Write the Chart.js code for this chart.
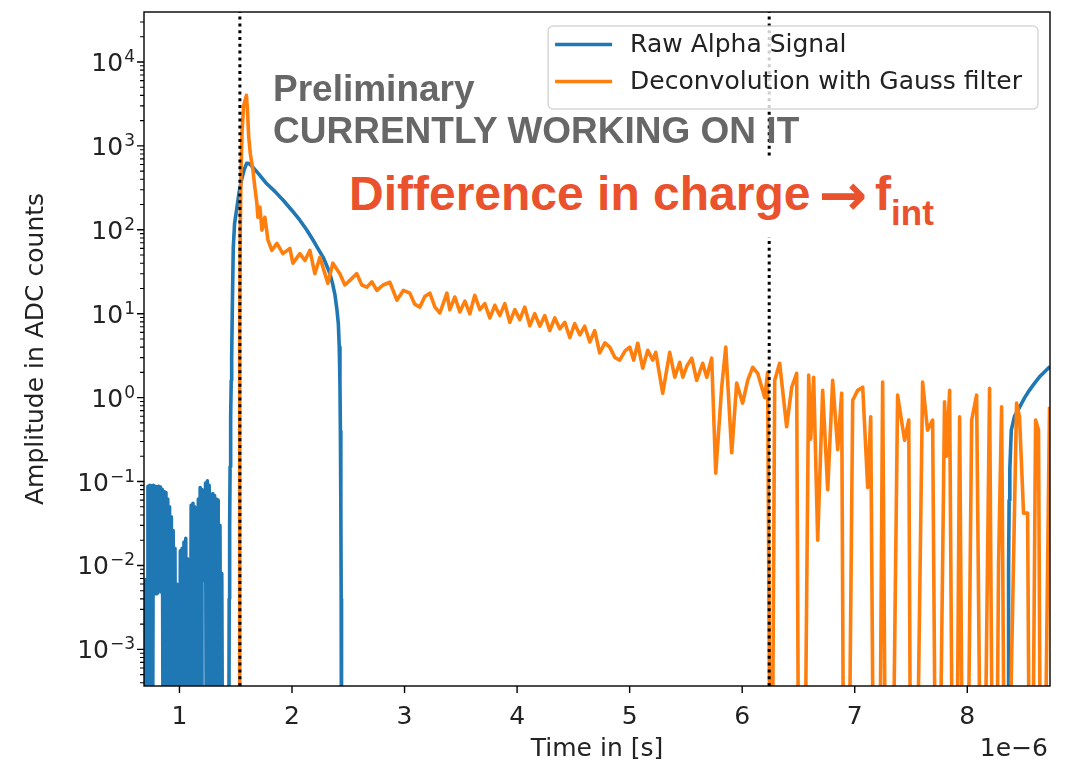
<!DOCTYPE html>
<html>
<head>
<meta charset="utf-8">
<script src="https://cdn.jsdelivr.net/npm/chart.js@4.4.1/dist/chart.umd.min.js"></script>
<style>
  html, body { margin: 0; padding: 0; background: #fff; }
  #wrap { position: relative; width: 1069px; height: 764px; overflow: hidden; }
  #chart { position: absolute; left: 0; top: 0; }
  .note { position: absolute; font-family: "Liberation Sans", Arial, sans-serif; font-weight: bold; white-space: nowrap; }
  #prelim { left: 273px; top: 68px; font-size: 37px; line-height: 42px; color: #676767; }
  #diff { left: 341px; top: 157px; height: 80px; padding: 0 10px 0 8px; line-height: 74px; font-size: 48px; color: #e9522c; background: #fff; }
  #diff .arr { font-family: "DejaVu Sans", sans-serif; font-size: 58px; line-height: 0; vertical-align: -5px; margin: 0 8px 0 8px; }
  #diff sub { font-size: 35px; vertical-align: -15px; line-height: 0; }
</style>
</head>
<body>
<div id="wrap">
  <canvas id="chart" width="1069" height="764"></canvas>
  <div class="note" id="prelim">Preliminary<br>CURRENTLY WORKING ON IT</div>
  <div class="note" id="diff">Difference in charge<span class="arr">→</span>f<sub>int</sub></div>
</div>
<script>
// axis setup (time is in units of 1e-6 s, like the offset label says)
const xRange = [0.685, 8.735];
const xTickValues = [1, 2, 3, 4, 5, 6, 7, 8];
const timeOffsetLabel = "1e\u22126";
const yRange = [3.66e-4, 3.94e4];
const yTickValues = [1e-3, 1e-2, 1e-1, 1e0, 1e1, 1e2, 1e3, 1e4];
const yTickExponents = ["\u22123", "\u22122", "\u22121", "0", "1", "2", "3", "4"];

const seriesNames = ["Raw Alpha Signal", "Deconvolution with Gauss filter"];
const seriesColors = ["#1f77b4", "#ff7f0e"];

// raw alpha signal, 1e-5 = below the axis floor (clipped like matplotlib)
const rawTime = [
  0.688, 0.696, 0.704, 0.712, 0.720, 0.728, 0.736, 0.744, 0.752, 0.760,
  0.768, 0.776, 0.784, 0.792, 0.800, 0.808, 0.816, 0.824, 0.832, 0.840,
  0.848, 0.856, 0.864, 0.872, 0.880, 0.888, 0.896, 0.904, 0.912, 0.920,
  0.928, 0.936, 0.944, 0.952, 0.960, 0.968, 0.976, 0.984, 0.992, 1.000,
  1.008, 1.016, 1.024, 1.032, 1.040, 1.048, 1.056, 1.064, 1.072, 1.080,
  1.088, 1.096, 1.104, 1.112, 1.120, 1.128, 1.136, 1.144, 1.152, 1.160,
  1.168, 1.176, 1.184, 1.192, 1.200, 1.208, 1.216, 1.224, 1.232, 1.240,
  1.248, 1.256, 1.264, 1.272, 1.280, 1.288, 1.296, 1.304, 1.312, 1.320,
  1.328, 1.336, 1.344, 1.352, 1.360, 1.368, 1.376, 1.384,
  1.438, 1.442, 1.446, 1.450, 1.455, 1.460, 1.464, 1.470, 1.478, 1.490,
  1.508, 1.530, 1.552, 1.575, 1.597, 1.620, 1.650, 1.700, 1.774, 1.850,
  1.922, 2.000, 2.070, 2.130, 2.188, 2.240, 2.277, 2.310, 2.337, 2.360,
  2.381, 2.400, 2.412, 2.420, 2.426, 2.430, 2.434, 2.437, 2.440,
  8.362, 8.366, 8.368, 8.372, 8.378, 8.391, 8.420, 8.465, 8.510, 8.553,
  8.600, 8.642, 8.690, 8.735
];
const rawAmp = [
  0.0070, 1e-5, 0.0068, 1e-5, 0.088, 1e-5, 0.090, 1e-5, 0.089, 1e-5,
  0.090, 0.0048, 0.088, 0.0046, 0.087, 0.0047, 0.088, 0.0050, 0.086, 0.0048,
  0.080, 1e-5, 0.076, 1e-5, 0.074, 1e-5, 0.062, 1e-5, 0.050, 1e-5,
  0.038, 1e-5, 0.026, 1e-5, 0.016, 1e-5, 0.0060, 1e-5, 0.0052, 1e-5,
  0.015, 1e-5, 0.016, 1e-5, 0.019, 1e-5, 0.021, 1e-5, 0.012, 1e-5,
  0.0095, 1e-5, 0.052, 1e-5, 0.055, 1e-5, 0.050, 1e-5, 0.048, 1e-5,
  0.062, 1e-5, 0.085, 1e-5, 0.080, 0.0066, 0.074, 0.0068, 0.096, 1e-5,
  0.102, 1e-5, 0.090, 1e-5, 0.066, 1e-5, 0.072, 1e-5, 0.068, 1e-5,
  0.062, 1e-5, 0.060, 1e-5, 0.030, 1e-5, 0.008, 1e-5,
  1e-5, 0.004, 0.03, 0.15, 0.6, 1.6, 3.0, 12, 60, 120,
  175, 280, 395, 520, 620, 615, 560, 470, 356, 285,
  225, 170, 130, 100, 75, 57, 47, 37, 30, 23,
  17, 11, 7.5, 4, 1.5, 0.4, 0.05, 0.004, 1e-5,
  1e-5, 0.001, 0.01, 0.06, 0.14, 0.41, 0.6, 0.77, 1.0, 1.23,
  1.5, 1.77, 2.05, 2.35
];

// deconvolved signal
const deconvTime = [
  0.685, 1.530, 1.534, 1.537, 1.540, 1.547, 1.556, 1.570, 1.595, 1.605,
  1.615, 1.630, 1.653, 1.670, 1.688, 1.697, 1.715, 1.733, 1.759, 1.786,
  1.821, 1.866, 1.919, 1.981, 2.008, 2.070, 2.115, 2.159, 2.203, 2.248,
  2.319, 2.363, 2.425, 2.470, 2.514, 2.576, 2.620, 2.665, 2.710, 2.754,
  2.810, 2.869, 2.932, 2.990, 3.047, 3.090, 3.136, 3.180, 3.225, 3.270,
  3.314, 3.376, 3.402, 3.447, 3.491, 3.536, 3.580, 3.624, 3.669, 3.713,
  3.758, 3.802, 3.846, 3.891, 3.935, 3.980, 4.024, 4.068, 4.113, 4.157,
  4.202, 4.246, 4.290, 4.335, 4.379, 4.424, 4.468, 4.512, 4.557, 4.601,
  4.646, 4.690, 4.734, 4.780, 4.823, 4.870, 4.912, 4.960, 5.001, 5.036,
  5.072, 5.116, 5.161, 5.205, 5.232, 5.294, 5.356, 5.401, 5.445, 5.472,
  5.510, 5.552, 5.596, 5.649, 5.685, 5.729, 5.765, 5.818, 5.854, 5.907,
  5.951, 6.004, 6.049, 6.093, 6.138, 6.200,
  6.226, 6.249, 6.266, 6.289, 6.333, 6.395, 6.440, 6.484, 6.502, 6.555,
  6.591, 6.609, 6.635, 6.671, 6.715, 6.760, 6.804, 6.849, 6.884, 6.902,
  6.947, 6.982, 7.026, 7.071, 7.115, 7.142, 7.168, 7.221, 7.248, 7.275,
  7.337, 7.381, 7.443, 7.480, 7.497, 7.551, 7.603, 7.647, 7.692, 7.719,
  7.754, 7.798, 7.816, 7.843, 7.870, 7.906, 7.932, 7.959, 8.003, 8.039,
  8.083, 8.119, 8.153, 8.198, 8.225, 8.260, 8.278, 8.305, 8.331, 8.367,
  8.438, 8.464, 8.500, 8.536, 8.553, 8.580, 8.607, 8.633, 8.651, 8.687,
  8.731
];
const deconvAmp = [
  1e-5, 1e-5, 0.05, 5, 100, 500, 1500, 3000, 4000, 2600,
  1300, 800, 513, 320, 207, 141, 186, 99, 141, 76,
  57, 69, 52, 60, 40, 52, 43, 57, 30, 47,
  23, 40, 30, 22, 25, 30, 22, 20.7, 24, 19,
  22, 23.7, 14.5, 19, 17.6, 13, 12, 16, 17.6, 12,
  10.2, 17.6, 11.2, 15.8, 10.5, 14.1, 10.0, 16.6, 11.2, 13.2,
  8.9, 12.6, 9.5, 13.2, 7.9, 11.2, 8.5, 12.0, 7.2, 10.0,
  7.1, 9.5, 6.3, 8.9, 6.6, 7.9, 5.2, 7.6, 5.6, 7.1,
  4.6, 6.3, 3.4, 4.5, 4.0, 3.0, 2.8, 3.6, 4.0, 2.8,
  4.45, 2.24, 3.67, 2.8, 3.47, 1.13, 3.47, 1.75, 2.64, 1.75,
  2.4, 2.95, 1.6, 2.57, 1.75, 2.95, 0.126, 1.33, 4.0, 0.22,
  1.49, 0.86, 1.61, 2.3, 1.95, 1.0,
  2.0, 1e-5, 1e-5, 1.61, 2.57, 0.45, 1.33, 1.95, 1e-5, 1e-5,
  1.86, 0.32, 1.75, 0.02, 1.22, 0.08, 1.61, 0.24, 1.13, 1e-5,
  1e-5, 0.93, 1.22, 1.33, 0.085, 0.59, 1e-5, 1e-5, 1.53, 1e-5,
  1e-5, 1.07, 0.31, 0.54, 1e-5, 1e-5, 1.53, 0.41, 0.54, 1e-5,
  1e-5, 0.89, 0.2, 1.22, 1e-5, 1e-5, 0.59, 1e-5, 1e-5, 0.54,
  1.07, 1e-5, 1e-5, 1.29, 1e-5, 1e-5, 0.0106, 0.78, 1e-5, 1e-5,
  0.86, 0.59, 0.042, 0.042, 1e-5, 1e-5, 0.54, 0.41, 1e-5, 1e-5,
  0.78
];

// integration window (dotted vertical lines)
const windowTimes = [1.537, 6.240];

const toPoints = (xs, ys) => xs.map((x, i) => ({ x: x, y: ys[i] }));

Chart.defaults.font.family = "DejaVu Sans";
Chart.defaults.color = "#222";

//draws the matplotlib-like frame, tick marks, log labels and the offset label
const axesFrame = {
  id: "axesFrame",
  afterDatasetsDraw(chart) {
    const { ctx, chartArea: ca, scales } = chart;
    const x = scales.x, y = scales.y;
    ctx.save();
    ctx.strokeStyle = "#000";
    ctx.lineWidth = 1.4;
    ctx.beginPath();
    xTickValues.forEach(v => {
      const px = x.getPixelForValue(v);
      ctx.moveTo(px, ca.bottom);
      ctx.lineTo(px, ca.bottom + 7);
    });
    yTickValues.forEach(v => {
      const py = y.getPixelForValue(v);
      ctx.moveTo(ca.left - 7, py);
      ctx.lineTo(ca.left, py);
    });
    ctx.stroke();
    // minor log ticks
    ctx.lineWidth = 1.1;
    ctx.beginPath();
    for (let d = -4; d <= 4; d++) {
      for (let m = 2; m <= 9; m++) {
        const v = m * Math.pow(10, d);
        if (v < y.min || v > y.max) continue;
        const py = y.getPixelForValue(v);
        ctx.moveTo(ca.left - 4, py);
        ctx.lineTo(ca.left, py);
      }
    }
    ctx.stroke();
    ctx.lineWidth = 1.4;
    ctx.strokeRect(ca.left, ca.top, ca.right - ca.left, ca.bottom - ca.top);

    // y labels as 10 with a raised exponent
    ctx.fillStyle = "#222";
    ctx.textAlign = "right";
    ctx.textBaseline = "alphabetic";
    yTickValues.forEach((v, i) => {
      const py = y.getPixelForValue(v);
      ctx.font = "17px DejaVu Sans";
      const ew = ctx.measureText(yTickExponents[i]).width;
      ctx.fillText(yTickExponents[i], ca.left - 9, py);
      ctx.font = "25px DejaVu Sans";
      ctx.fillText("10", ca.left - 10 - ew, py + 9);
    });

    ctx.font = "25px DejaVu Sans";
    ctx.fillText(timeOffsetLabel, ca.right - 2, ca.bottom + 70);
    ctx.restore();
  }
};

//legend box inside the axes, upper right
const frameLegend = {
  id: "frameLegend",
  afterDraw(chart) {
    const { ctx, chartArea: ca } = chart;
    const entries = chart.data.datasets.filter(d => d.label);
    ctx.save();
    ctx.font = "25px DejaVu Sans";
    const textW = Math.max(...entries.map(d => ctx.measureText(d.label).width));
    const w = 82 + textW + 16, h = 83;
    const x0 = ca.right - 12 - w, y0 = ca.top + 14;
    ctx.beginPath();
    if (ctx.roundRect) ctx.roundRect(x0, y0, w, h, 5);
    else ctx.rect(x0, y0, w, h);
    ctx.fillStyle = "rgba(255,255,255,0.8)";
    ctx.fill();
    ctx.strokeStyle = "rgba(204,204,204,0.8)";
    ctx.lineWidth = 1.4;
    ctx.stroke();
    entries.forEach((d, i) => {
      const yy = y0 + 19.5 + i * 37;
      ctx.beginPath();
      ctx.moveTo(x0 + 7, yy - 1);
      ctx.lineTo(x0 + 64, yy - 1);
      ctx.strokeStyle = d.borderColor;
      ctx.lineWidth = 3.5;
      ctx.stroke();
      ctx.fillStyle = "#222";
      ctx.textAlign = "left";
      ctx.textBaseline = "middle";
      ctx.fillText(d.label, x0 + 82, yy);
    });
    ctx.restore();
  }
};

const windowSets = windowTimes.map(t => ({
  data: [{ x: t, y: yRange[0] }, { x: t, y: yRange[1] }],
  borderColor: "#000",
  borderWidth: 3,
  borderDash: [3, 3.8],
  order: 1
}));

new Chart(document.getElementById("chart"), {
  type: "line",
  data: {
    datasets: [
      {
        label: seriesNames[0],
        data: toPoints(rawTime, rawAmp),
        borderColor: seriesColors[0],
        borderWidth: 3.6,
        order: 3
      },
      {
        label: seriesNames[1],
        data: toPoints(deconvTime, deconvAmp),
        borderColor: seriesColors[1],
        borderWidth: 3.6,
        order: 2
      },
      ...windowSets
    ]
  },
  options: {
    responsive: false,
    devicePixelRatio: 1,
    animation: false,
    layout: { padding: { top: 12, right: 19, left: 0, bottom: 0 } },
    elements: { point: { radius: 0 }, line: { tension: 0, borderJoinStyle: "round" } },
    plugins: { legend: { display: false }, tooltip: { enabled: false } },
    scales: {
      x: {
        type: "linear",
        min: xRange[0],
        max: xRange[1],
        afterBuildTicks: scale => { scale.ticks = xTickValues.map(v => ({ value: v })); },
        afterFit: scale => {
          scale.height = 78;
          scale.paddingLeft = 0;
          scale.paddingRight = 0;
        },
        grid: { display: false },
        border: { display: false },
        ticks: { autoSkip: false, maxRotation: 0, padding: 8, font: { size: 25 } },
        title: { display: true, text: "Time in [s]", font: { size: 25 }, padding: { top: 0, bottom: 0 } }
      },
      y: {
        type: "logarithmic",
        min: yRange[0],
        max: yRange[1],
        afterBuildTicks: scale => { scale.ticks = yTickValues.map(v => ({ value: v })); },
        afterFit: scale => {
          scale.width = 144;
          scale.paddingTop = 0;
          scale.paddingBottom = 0;
        },
        grid: { display: false },
        border: { display: false },
        ticks: { display: false },
        title: { display: true, text: "Amplitude in ADC counts", font: { size: 25 }, padding: { top: 21, bottom: 0 } }
      }
    }
  },
  plugins: [axesFrame, frameLegend]
});
</script>
</body>
</html>
